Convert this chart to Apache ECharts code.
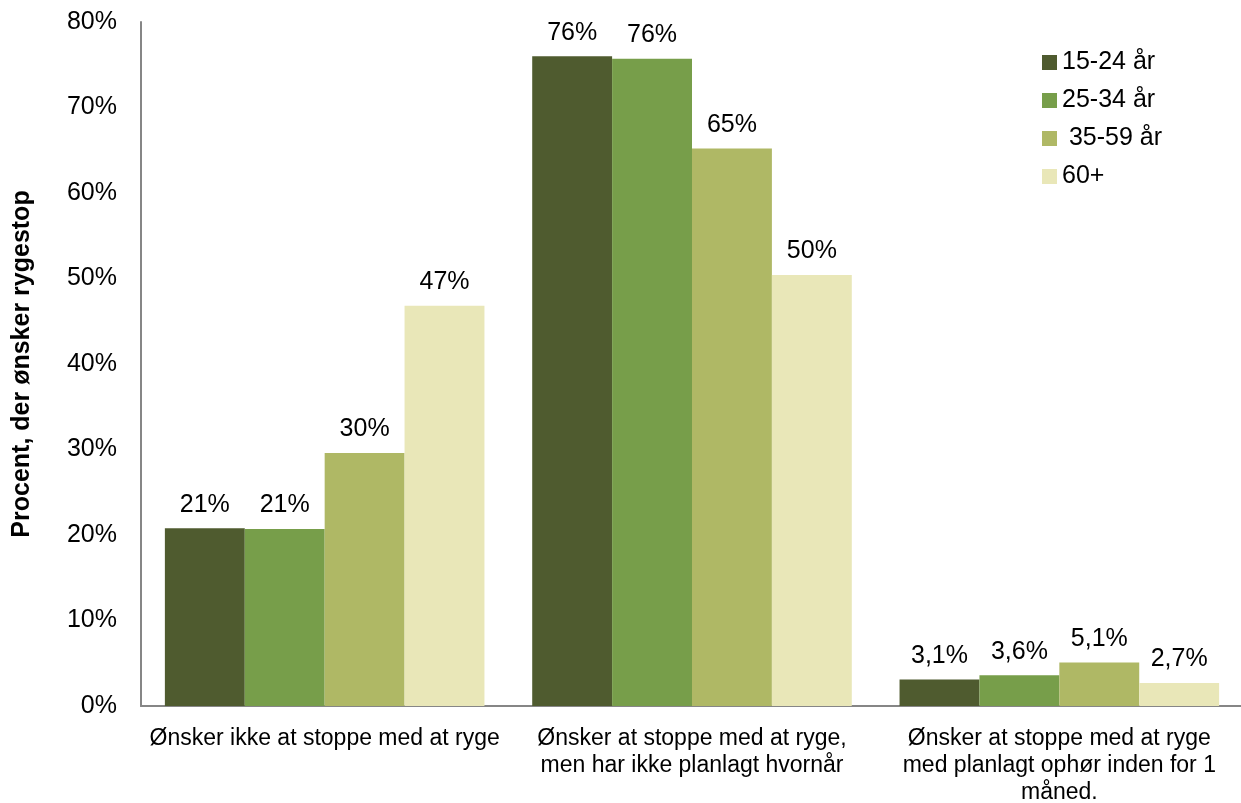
<!DOCTYPE html>
<html>
<head>
<meta charset="utf-8">
<script src="https://cdn.jsdelivr.net/npm/echarts@6/dist/echarts.min.js"></script>
<style>
  html, body { margin: 0; padding: 0; background: #fff; }
  #chart { width: 1241px; height: 803px; }
</style>
</head>
<body>
<div id="chart"></div>
<script>
// kategorier og værdier (procent)
const categories = [
  'Ønsker ikke at stoppe med at ryge',
  'Ønsker at stoppe med at ryge,\nmen har ikke planlagt hvornår',
  'Ønsker at stoppe med at ryge\nmed planlagt ophør inden for 1\nmåned.'
];
const seriesNames = ['15-24 år', '25-34 år', ' 35-59 år', '60+'];
const age15_24 = [20.8, 76.0, 3.1];
const age25_34 = [20.7, 75.7, 3.6];
const age35_59 = [29.6, 65.2, 5.1];
const age60plus = [46.8, 50.4, 2.7];
// etiketter som i originalen
const labels15_24 = ['21%', '76%', '3,1%'];
const labels25_34 = ['21%', '76%', '3,6%'];
const labels35_59 = ['30%', '65%', '5,1%'];
const labels60plus = ['47%', '50%', '2,7%'];
const yTicks = [0, 10, 20, 30, 40, 50, 60, 70, 80];

const colors = ['#4f5b2f', '#779e4a', '#afb865', '#e9e7b8'];
const font = 'Liberation Sans, Arial, sans-serif';

function makeSeries(name, data, labels, color) {
  return {
    name: name,
    type: 'bar',
    data: data,
    barGap: '0%',
    barCategoryGap: '13%',
    itemStyle: { color: color },
    label: {
      show: true,
      position: 'top',
      distance: 11,
      fontFamily: font,
      fontSize: 25,
      color: '#000',
      formatter: p => labels[p.dataIndex]
    }
  };
}

const chart = echarts.init(document.getElementById('chart'));
chart.setOption({
  animation: false,
  backgroundColor: '#fff',
  grid: { left: 141, right: -2, top: 22, bottom: 97, containLabel: false, outerBoundsMode: 'none' },
  legend: {
    orient: 'vertical',
    left: 1037,
    top: 45,
    itemWidth: 15,
    itemHeight: 15,
    itemGap: 13,
    icon: 'rect',
    textStyle: { fontFamily: font, fontSize: 25, color: '#000' },
    data: seriesNames
  },
  xAxis: {
    type: 'category',
    data: categories,
    axisLine: { lineStyle: { color: '#868686', width: 2 } },
    axisTick: { show: false },
    axisLabel: {
      interval: 0,
      margin: 19,
      fontFamily: font,
      fontSize: 23,
      lineHeight: 27,
      color: '#000'
    }
  },
  yAxis: {
    type: 'value',
    min: 0,
    max: 80,
    interval: 10,
    name: 'Procent, der ønsker rygestop',
    nameLocation: 'middle',
    nameRotate: 90,
    nameGap: 106,
    nameTextStyle: { fontFamily: font, fontSize: 25, fontWeight: 'bold', color: '#000' },
    axisLine: { show: true, lineStyle: { color: '#868686', width: 2 } },
    axisTick: { show: false },
    splitLine: { show: false },
    axisLabel: {
      margin: 24,
      fontFamily: font,
      fontSize: 25,
      color: '#000',
      formatter: v => yTicks.indexOf(v) >= 0 ? v + '%' : ''
    }
  },
  series: [
    makeSeries(seriesNames[0], age15_24, labels15_24, colors[0]),
    makeSeries(seriesNames[1], age25_34, labels25_34, colors[1]),
    makeSeries(seriesNames[2], age35_59, labels35_59, colors[2]),
    makeSeries(seriesNames[3], age60plus, labels60plus, colors[3])
  ]
});
</script>
</body>
</html>
